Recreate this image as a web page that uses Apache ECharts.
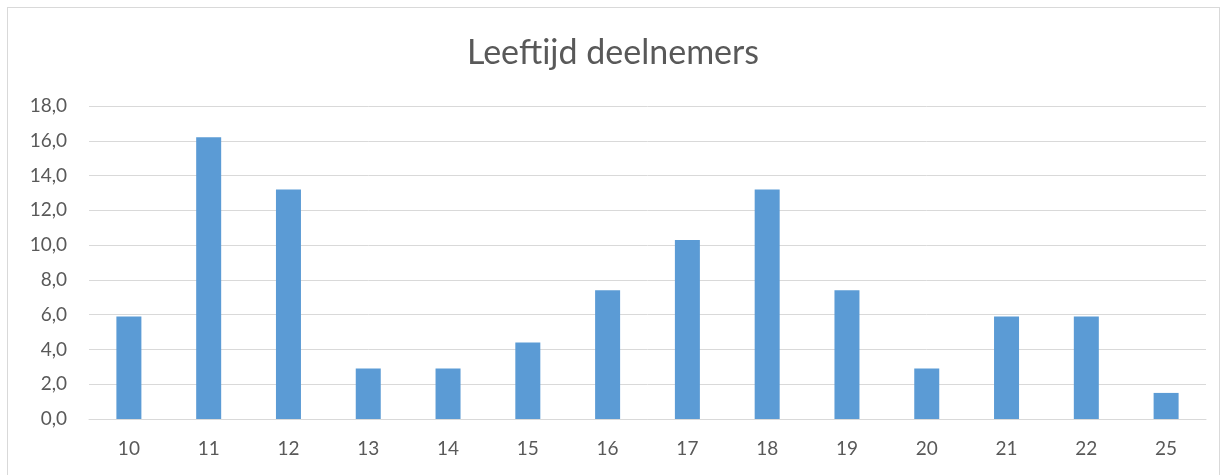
<!DOCTYPE html>
<html>
<head>
<meta charset="utf-8">
<script src="https://cdn.jsdelivr.net/npm/echarts@6/dist/echarts.min.js"></script>
<style>
    html, body{
        margin: 0;
        padding: 0;
        background: #fff;
    }
    #frame{
        position: absolute;
        left: 7px;
        top: 7px;
        width: 1211px;
        height: 480px;
        border: 1px solid #d9d9d9;
    }
    #chart{
        position: absolute;
        left: 0;
        top: 0;
        width: 1226px;
        height: 475px;
    }
</style>
</head>
<body>
<div id="frame"></div>
<div id="chart"></div>
<script>
    // leeftijden en aandeel deelnemers (%)
    const ages = ['10', '11', '12', '13', '14', '15', '16', '17', '18', '19', '20', '21', '22', '25'];
    const shares = [5.9, 16.2, 13.2, 2.9, 2.9, 4.4, 7.4, 10.3, 13.2, 7.4, 2.9, 5.9, 5.9, 1.5];
    const yTicks = [0, 2, 4, 6, 8, 10, 12, 14, 16, 18];

    let myChart = echarts.init(document.getElementById('chart'));
    myChart.setOption({
        animation: false,
        textStyle: { fontFamily: 'Lato' },
        title: {
            text: 'Leeftijd deelnemers',
            left: 'center',
            top: 31,
            textStyle: {
                fontFamily: 'Lato',
                fontSize: 34,
                fontWeight: 'normal',
                color: '#595959'
            }
        },
        grid: {
            left: 89,
            right: 20,
            top: 106,
            bottom: 56
        },
        xAxis: {
            type: 'category',
            data: ages,
            axisLine: { lineStyle: { color: '#d9d9d9', width: 1 } },
            axisTick: { show: false },
            axisLabel: {
                color: '#595959',
                fontSize: 19,
                margin: 20
            }
        },
        yAxis: {
            type: 'value',
            min: yTicks[0],
            max: yTicks[yTicks.length - 1],
            interval: 2,
            axisLine: { show: false },
            axisTick: { show: false },
            splitLine: { lineStyle: { color: '#d9d9d9', width: 1 } },
            axisLabel: {
                color: '#595959',
                fontSize: 19,
                margin: 22,
                formatter: v => v.toFixed(1).replace('.', ',')
            }
        },
        series: [{
            type: 'bar',
            data: shares,
            barWidth: 25,
            itemStyle: { color: '#5b9bd5' }
        }]
    });
</script>
</body>
</html>
